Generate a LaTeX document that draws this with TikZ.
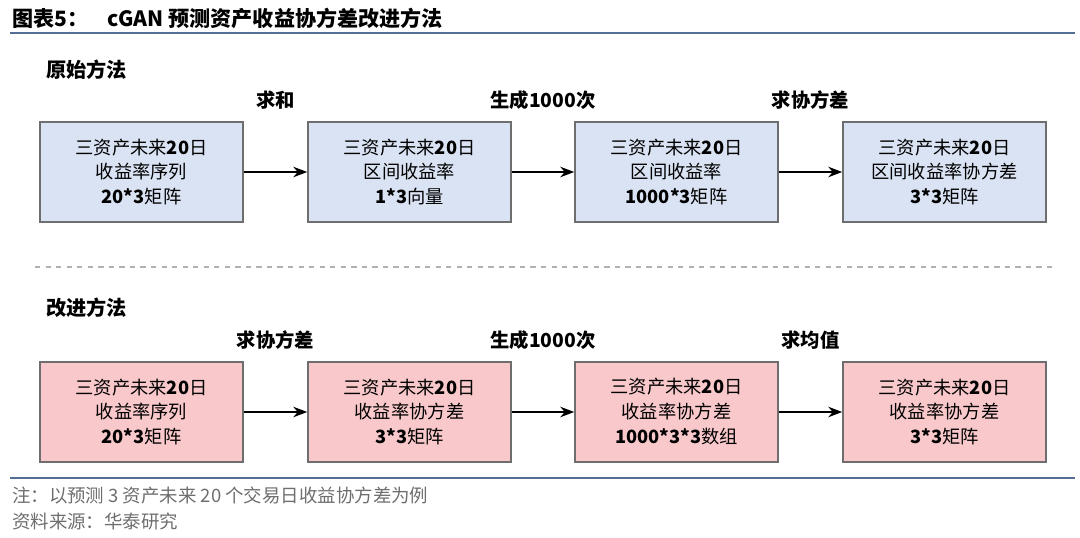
\documentclass[tikz,border=0pt]{standalone}
\usepackage{fontspec}
\setmainfont{Noto Sans CJK SC}
\usetikzlibrary{arrows.meta, calc}

\definecolor{rulecol}{RGB}{84,110,150}
\definecolor{boxblue}{RGB}{218,227,243}
\definecolor{boxpink}{RGB}{249,200,202}
\definecolor{boxline}{RGB}{110,110,110}
\definecolor{notegray}{RGB}{110,110,110}

\tikzset{
    stagebox/.style={draw=boxline, line width=0.9pt, minimum width=4.06cm, minimum height=2cm,
        align=center, font=\fontsize{10.4}{14.2}\selectfont},
    oplabel/.style={font=\fontsize{11}{12}\selectfont\bfseries},
    seclabel/.style={anchor=west, font=\fontsize{11.5}{12}\selectfont\bfseries},
    notelabel/.style={anchor=west, text=notegray, font=\fontsize{10.5}{11}\selectfont},
    flow/.style={->, >=Stealth, line width=1.1pt}
}

\begin{document}
\begin{tikzpicture}[x=0.02cm, y=-0.02cm]
            \useasboundingbox (0,0) rectangle (1080,538);

            % title and rules
            \node[anchor=west, font=\fontsize{12}{13}\selectfont\bfseries] (title) at (6,18) {图表5：\hspace{0.9em}cGAN 预测资产收益协方差改进方法};
            \draw[rulecol, line width=1.6pt] (10,33) -- (1075,33);
            \draw[rulecol, line width=1.6pt] (10,478) -- (1075,478);
            \draw[gray!60, dashed, line width=0.6pt] (35,267) -- (1055,267);

            % original method
            \node[seclabel] (sec1) at (40,70) {原始方法};
            \node[stagebox, fill=boxblue] (a1) at (141.5,172) {三资产未来\textbf{20}日\\收益率序列\\\textbf{20*3}矩阵};
            \node[stagebox, fill=boxblue] (a2) at (409.5,172) {三资产未来\textbf{20}日\\区间收益率\\\textbf{1*3}向量};
            \node[stagebox, fill=boxblue] (a3) at (676.5,172) {三资产未来\textbf{20}日\\区间收益率\\\textbf{1000*3}矩阵};
            \node[stagebox, fill=boxblue] (a4) at (944.5,172) {三资产未来\textbf{20}日\\区间收益率协方差\\\textbf{3*3}矩阵};

            % improved method
            \node[seclabel] (sec2) at (40,308) {改进方法};
            \node[stagebox, fill=boxpink] (b1) at (141.5,412) {三资产未来\textbf{20}日\\收益率序列\\\textbf{20*3}矩阵};
            \node[stagebox, fill=boxpink] (b2) at (409.5,412) {三资产未来\textbf{20}日\\收益率协方差\\\textbf{3*3}矩阵};
            \node[stagebox, fill=boxpink] (b3) at (676.5,412) {三资产未来\textbf{20}日\\收益率协方差\\\textbf{1000*3*3}数组};
            \node[stagebox, fill=boxpink] (b4) at (944.5,412) {三资产未来\textbf{20}日\\收益率协方差\\\textbf{3*3}矩阵};

            % arrows with labels
            \foreach \r/\p/\lab in {a/1/求和, a/2/生成1000次, a/3/求协方差,
                                    b/1/求协方差, b/2/生成1000次, b/3/求均值} {
                \pgfmathtruncatemacro{\q}{\p+1}
                \draw[flow] (\r\p.east) -- (\r\q.west);
                \node[oplabel, above=32pt] (op\r\p) at ($(\r\p.east)!0.5!(\r\q.west)$) {\lab};
            }

            % notes
            \node[notelabel] (note) at (6,495) {注：以预测 3 资产未来 20 个交易日收益协方差为例};
            \node[notelabel] (source) at (6,521) {资料来源：华泰研究};
        \end{tikzpicture}
\end{document}
